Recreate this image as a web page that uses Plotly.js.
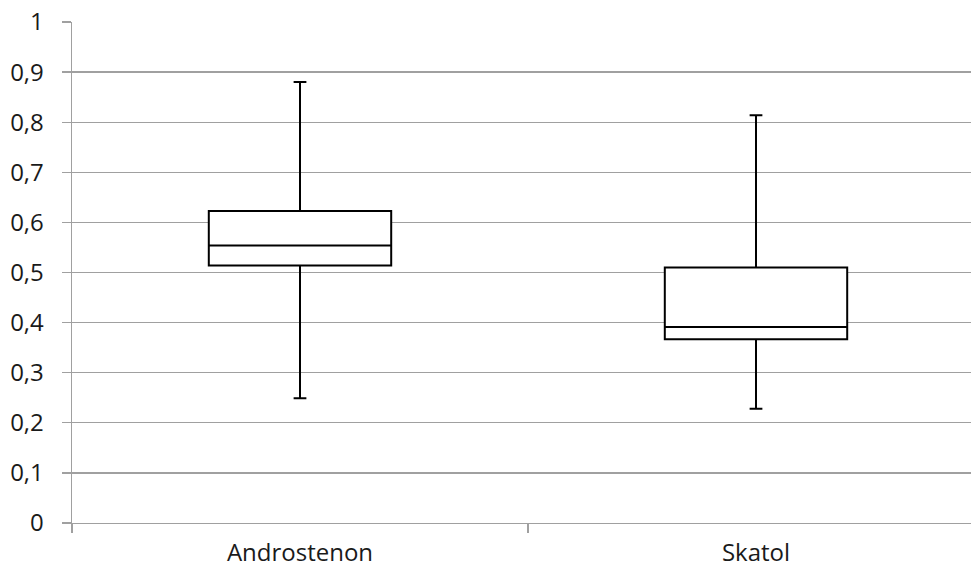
<!DOCTYPE html>
<html>
<head>
<meta charset="utf-8">
<script src="https://cdn.plot.ly/plotly-3.0.1.min.js"></script>
<style>
html,body{margin:0;padding:0;overflow:hidden;background:#fff;}
#chart{width:985px;height:571px;}
</style>
</head>
<body>
<div id="chart"></div>
<script>
const categories = ["Androstenon", "Skatol"];
const lowerWhisker = [0.249, 0.228];
const q1Values = [0.514, 0.367];
const medianValues = [0.554, 0.391];
const q3Values = [0.623, 0.510];
const upperWhisker = [0.880, 0.814];
const yTickValues = [0, 0.1, 0.2, 0.3, 0.4, 0.5, 0.6, 0.7, 0.8, 0.9, 1];

const trace = {
  type: "box",
  x: categories,
  q1: q1Values,
  median: medianValues,
  q3: q3Values,
  lowerfence: lowerWhisker,
  upperfence: upperWhisker,
  boxpoints: false,
  fillcolor: "#ffffff",
  line: {color: "#000000", width: 2},
  whiskerwidth: 0.07,
  hoverinfo: "skip",
  showlegend: false
};

const layout = {
  width: 985,
  height: 571,
  margin: {l: 72, r: 1, t: 22, b: 48, pad: 0},
  paper_bgcolor: "#ffffff",
  plot_bgcolor: "#ffffff",
  separators: ", ",
  font: {family: "Open Sans, sans-serif", size: 24, color: "#1a1a1a"},
  boxgap: 0.6,
  boxgroupgap: 0,
  xaxis: {
    type: "category",
    tickson: "boundaries",
    ticks: "outside",
    ticklen: 9,
    tickcolor: "#a0a0a0",
    tickwidth: 1.4,
    showline: true,
    linecolor: "#a0a0a0",
    linewidth: 1.4,
    showgrid: false,
    zeroline: false,
    ticklabelstandoff: 8,
    tickfont: {family: "Open Sans, sans-serif", size: 24, color: "#1a1a1a"}
  },
  yaxis: {
    range: [0, 1],
    tickvals: yTickValues,
    ticks: "outside",
    ticklen: 9,
    tickcolor: "#a0a0a0",
    tickwidth: 1.4,
    showline: true,
    linecolor: "#a0a0a0",
    linewidth: 1.4,
    showgrid: true,
    gridcolor: "#a0a0a0",
    gridwidth: 1.4,
    zeroline: false,
    ticklabelstandoff: 13,
    tickfont: {family: "Open Sans, sans-serif", size: 24, color: "#1a1a1a"}
  }
};

Plotly.newPlot("chart", [trace], layout, {staticPlot: true, displayModeBar: false});
</script>
</body>
</html>
